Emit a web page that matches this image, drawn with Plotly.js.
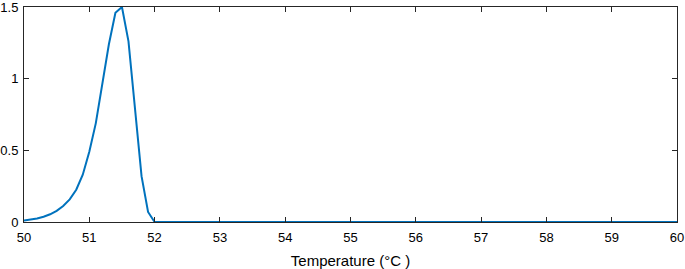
<!DOCTYPE html>
<html>
<head>
<meta charset="utf-8">
<script src="https://cdn.plot.ly/plotly-3.0.1.min.js"></script>
<style>html,body{margin:0;padding:0;background:#fff;}#chart{width:685px;height:269px;}</style>
</head>
<body>
<div id="chart"></div>
<script>
var temperature = [50.0, 50.1, 50.2, 50.3, 50.4, 50.5, 50.6, 50.7, 50.8, 50.9,
                   51.0, 51.1, 51.2, 51.3, 51.4, 51.5, 51.6, 51.7, 51.8, 51.9,
                   52.0, 53.0, 54.0, 55.0, 56.0, 57.0, 58.0, 59.0, 60.0];
var signal = [0.010, 0.016, 0.025, 0.037, 0.054, 0.078, 0.112, 0.158, 0.225, 0.33,
              0.49, 0.69, 0.95, 1.24, 1.46, 1.50, 1.26, 0.79, 0.32, 0.07,
              0.0, 0.0, 0.0, 0.0, 0.0, 0.0, 0.0, 0.0, 0.0];
var xTicks = [50, 51, 52, 53, 54, 55, 56, 57, 58, 59, 60];
var yTicks = [0, 0.5, 1, 1.5];
var yTickLabels = ['0', '0.5', '1', '1.5'];
var xLabel = 'Temperature (°C )';

var trace = {
  x: temperature, y: signal, type: 'scatter', mode: 'lines',
  line: {color: '#0072BD', width: 2}, hoverinfo: 'none'
};
var axisCommon = {
  showgrid: false, zeroline: false, showline: true, mirror: 'ticks',
  linecolor: '#262626', linewidth: 1,
  ticks: 'inside', ticklen: 5, tickwidth: 1, tickcolor: '#262626',
  ticklabeloverflow: 'allow',
  tickfont: {family: 'Liberation Sans, Arial, sans-serif', size: 13, color: '#000'}
};
var layout = {
  width: 685, height: 269,
  margin: {l: 24, r: 8, t: 7, b: 47},
  paper_bgcolor: '#fff', plot_bgcolor: '#fff',
  showlegend: false,
  xaxis: Object.assign({}, axisCommon, {
    range: [50, 60], tickvals: xTicks, ticktext: xTicks.map(String), ticklabelstandoff: 3,
    title: {text: xLabel, font: {family: 'Liberation Sans, Arial, sans-serif', size: 15, color: '#000'}, standoff: 12}
  }),
  yaxis: Object.assign({}, axisCommon, {
    range: [0, 1.5], tickvals: yTicks, ticktext: yTickLabels, ticklabelstandoff: 2
  })
};
Plotly.newPlot('chart', [trace], layout, {displayModeBar: false, staticPlot: true});
</script>
</body>
</html>
